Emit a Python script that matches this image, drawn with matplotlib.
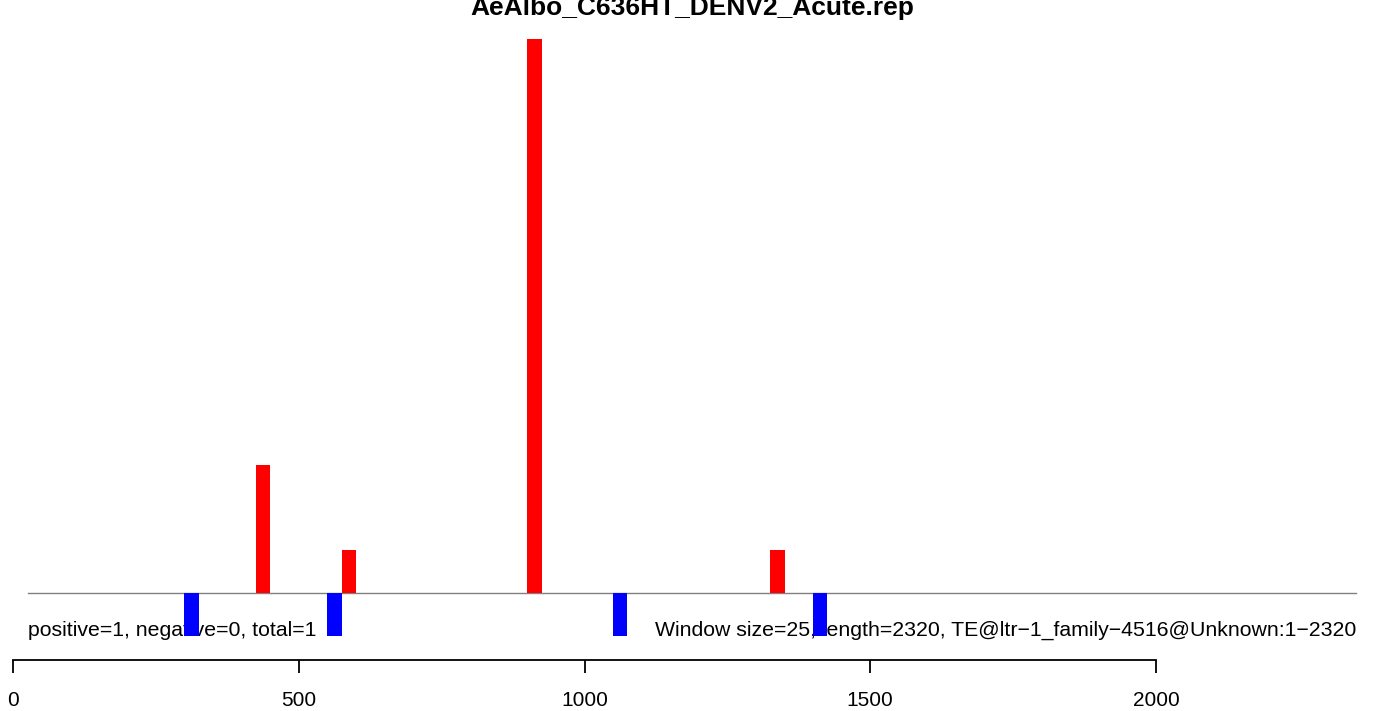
import matplotlib
matplotlib.use("Agg")
import matplotlib.pyplot as plt

title = "AeAlbo_C636HT_DENV2_Acute.rep"
window = 25
pos_starts = [425, 575, 900, 1325]
pos_counts = [3, 1, 13, 1]
neg_starts = [300, 550, 1050, 1400]
neg_counts = [1, 1, 1, 1]
xticks = [0, 500, 1000, 1500, 2000]
left_text = "positive=1, negative=0, total=1"
right_text = "Window size=25, length=2320, TE@ltr\u22121_family\u22124516@Unknown:1\u22122320"

W, H = 1374, 711
fig = plt.figure(figsize=(W / 100, H / 100), dpi=100)
plt.rcParams['font.family'] = ['Liberation Sans', 'DejaVu Sans']

# pixel mapping
px_per_unit = (1156 - 13) / 2000.0
x0 = -13 / px_per_unit
x1 = (W - 13) / px_per_unit
y_unit = 42.6
base_py = 593
ytop = base_py / y_unit
ybot = -(H - base_py) / y_unit

ax = fig.add_axes([0, 0, 1, 1])
ax.set_xlim(x0, x1)
ax.set_ylim(ybot, ytop)
ax.axis('off')

ax.bar(pos_starts, pos_counts, width=window, align='edge', color='#ff0000', linewidth=0, zorder=3)
ax.bar(neg_starts, [-c for c in neg_counts], width=window, align='edge', color='#0000ff', linewidth=0, zorder=3)

lx = (28 - 13) / px_per_unit
rx = (1356 - 13) / px_per_unit
ax.plot([lx, rx], [0, 0], color='#808080', lw=1.0, zorder=2)

ty = (base_py - 630) / y_unit
ax.text(lx, ty, left_text, ha='left', va='center', fontsize=15.3, zorder=1)
ax.text(rx, ty, right_text, ha='right', va='center', fontsize=15.3, zorder=1)

ax.text((692 - 13) / px_per_unit, (base_py - 15) / y_unit, title, ha='center', va='baseline',
        fontsize=19, fontweight='bold')

# x axis
axis_py = 660
ax2 = fig.add_axes([0, 1 - axis_py / H, 1, 0.0001])
ax2.set_xlim(x0, x1)
ax2.patch.set_visible(False)
for s in ['top', 'left', 'right']:
    ax2.spines[s].set_visible(False)
ax2.spines['bottom'].set_bounds(xticks[0], xticks[-1])
ax2.spines['bottom'].set_linewidth(1.3)
ax2.set_yticks([])
ax2.set_xticks(xticks)
ax2.set_xticklabels([str(t) for t in xticks], fontsize=15)
ax2.tick_params(axis='x', direction='out', length=9, width=1.3, pad=13)

fig.savefig("out.png", dpi=100)
